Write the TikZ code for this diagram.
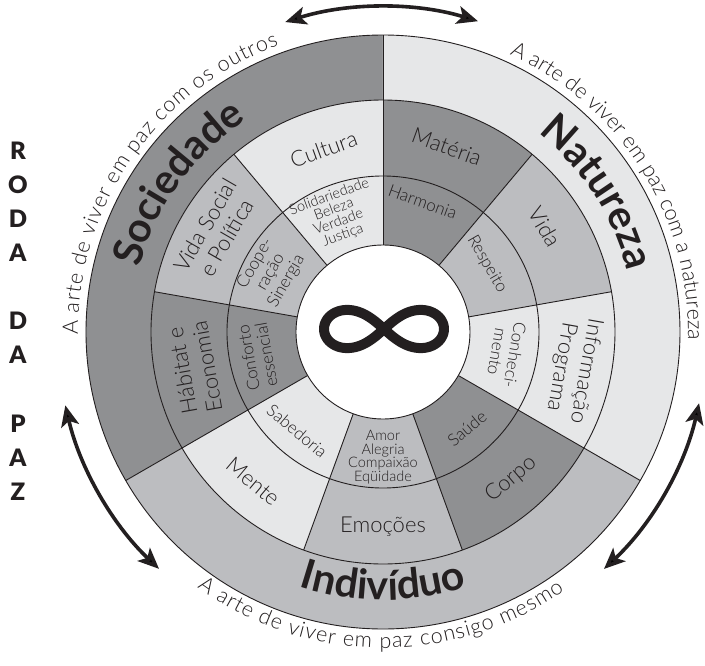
\documentclass[tikz,border=0pt]{standalone}
\usepackage{fontspec}
\setmainfont{Lato}
\IfFontExistsTF{Lato Light}{\newfontfamily\lightfont{Lato Light}}{\newfontfamily\lightfont{Lato}}
\IfFontExistsTF{Lato Black}{\newfontfamily\heavyfont{Lato Black}}{\newfontfamily\heavyfont{Lato}[UprightFont=*-Bold]}
\usetikzlibrary{decorations.text,arrows.meta}
\definecolor{gdark}{RGB}{143,144,146}
\definecolor{gmed}{RGB}{188,189,192}
\definecolor{glight}{RGB}{230,231,232}
\definecolor{ink}{RGB}{35,31,32}
\newcommand{\arcfont}{\lightfont\fontsize{21.5}{21.5}\selectfont}
\newcommand{\bigfont}{\fontsize{41}{41}\selectfont\bfseries}
\tikzset{
  ringline/.style={draw=ink, line width=0.9pt},
  midlabel/.style={text=ink, font=\lightfont\fontsize{22}{25}\selectfont, align=center, inner sep=0pt},
  innlabel/.style={text=ink, font=\lightfont\fontsize{17}{18}\selectfont, align=center, inner sep=0pt},
  smalllabel/.style={text=ink, font=\lightfont\fontsize{14.5}{13.5}\selectfont, align=center, inner sep=0pt},
  cyclearrow/.style={line width=3.6pt, draw=ink, {Stealth[length=21pt,width=18pt,inset=5pt]}-{Stealth[length=21pt,width=18pt,inset=5pt]}},
  rodaletter/.style={font=\heavyfont\fontsize{24}{24}\selectfont, text=ink, inner sep=0pt},
  arctext/.style={decorate, decoration={text along path, text color=ink, text={|\arcfont|#1}, text align={fit to path}}},
  bigtext/.style={decorate, decoration={text along path, text color=ink, text={|\bigfont|#1}, text align=center}}
}
\begin{document}
\begin{tikzpicture}[x=1pt,y=1pt]
\useasboundingbox (-383,-333) rectangle (322,332);
\fill[white] (-383,-333) rectangle (322,332);
% outer ring
\fill[gdark] (90:232pt) arc[start angle=90,end angle=210,radius=232pt] -- (210:297pt) arc[start angle=210,end angle=90,radius=297pt] -- cycle;
\fill[glight] (-30:232pt) arc[start angle=-30,end angle=90,radius=232pt] -- (90:297pt) arc[start angle=90,end angle=-30,radius=297pt] -- cycle;
\fill[gmed] (210:232pt) arc[start angle=210,end angle=330,radius=232pt] -- (330:297pt) arc[start angle=330,end angle=210,radius=297pt] -- cycle;
% inner and middle rings
\foreach \a/\c in {-150/glight,-110/gmed,-70/gdark,-30/glight,10/gmed,50/gdark,90/glight,130/gmed,170/gdark}{
  \fill[\c] (\a:87pt) arc[start angle=\a, delta angle=40, radius=87pt] -- ({\a+40}:232pt) arc[start angle={\a+40}, delta angle=-40, radius=232pt] -- cycle;
}
\draw[ringline] (0,0) circle[radius=297pt];
\draw[ringline] (0,0) circle[radius=232pt];
\draw[ringline] (0,0) circle[radius=156pt];
\foreach \a in {-150,-110,...,170} \draw[ringline] (\a:87pt) -- (\a:232pt);
\foreach \a in {90,210,330} \draw[ringline] (\a:232pt) -- (\a:297pt);
\filldraw[fill=white, ringline] (0,0) circle[radius=87pt];
% infinity
\draw[ink, line width=10pt, line join=round] plot[domain=0:357.6, samples=150, smooth cycle, variable=\t] ({1+60*cos(\t)/(1+sin(\t)^2)}, {3+54*sin(\t)*cos(\t)/(1+sin(\t)^2)});
% big ring titles
\path[bigtext=Sociedade] (168:252pt) arc[start angle=168, end angle=120, radius=252pt];
\path[bigtext=Natureza] (57:252pt) arc[start angle=57, end angle=9, radius=252pt];
\path[bigtext=Indivíduo] (239:268pt) arc[start angle=239, end angle=301, radius=268pt];
% arc texts
\path[arctext=A arte de viver em paz com os outros] (180.5:305pt) arc[start angle=180.5, end angle=110, radius=305pt];
\path[arctext=A arte de viver em paz com a natureza] (65.5:305pt) arc[start angle=65.5, end angle=-1.5, radius=305pt];
\path[arctext=A arte de viver em paz consigo mesmo] (234:316pt) arc[start angle=234, end angle=305, radius=316pt];
% middle ring labels
\node[midlabel, rotate=20] (cultura) at (108:192pt) {Cultura};
\node[midlabel, rotate=-20] (materia) at (71:196pt) {Matéria};
\node[midlabel, rotate=-60] (vida) at (33:193pt) {Vida};
\node[midlabel, rotate=-100] (info) at (-11:194pt) {Informação\\Programa};
\node[midlabel, rotate=40] (corpo) at (-49:195pt) {Corpo};
\node[midlabel] (emocoes) at (-90:195pt) {Emoções};
\node[midlabel, rotate=-40] (mente) at (229:198pt) {Mente};
\node[midlabel, rotate=100] (habitat) at (191:192pt) {Hábitat e\\Economia};
\node[midlabel, rotate=60] (vidasocial) at (149:195pt) {Vida Social\\e Política};
% inner ring labels
\node[smalllabel, rotate=20] (solid) at (112:125pt) {Solidariedade\\Beleza\\Verdade\\Justiça};
\node[innlabel, rotate=-20] (harmonia) at (73:136pt) {Harmonia};
\node[innlabel, rotate=-60] (respeito) at (33:124pt) {Respeito};
\node[innlabel, rotate=-100] (conhec) at (-10:125pt) {Conheci-\\mento};
\node[innlabel, rotate=40] (saude) at (-49:128pt) {Saúde};
\node[smalllabel] (amor) at (-90:125pt) {Amor\\Alegria\\Compaixão\\Eqüidade};
\node[innlabel, rotate=-40] (sabedoria) at (229:131pt) {Sabedoria};
\node[innlabel, rotate=100] (conforto) at (191:128pt) {Conforto\\essencial};
\node[innlabel, rotate=60] (coope) at (152:127pt) {Coope-\\ração\\Sinergia};
% arrows
\draw[cyclearrow] (107.5:325pt) arc[start angle=107.5, end angle=73, radius=325pt];
\draw[cyclearrow] (193:326pt) arc[start angle=193, end angle=226.6, radius=326pt];
\draw[cyclearrow] (-12.7:324pt) arc[start angle=-12.7, end angle=-47, radius=324pt];
% RODA DA PAZ
\node[rodaletter] (l1) at (-365,181) {R};
\node[rodaletter] (l2) at (-365,147) {O};
\node[rodaletter] (l3) at (-365,113) {D};
\node[rodaletter] (l4) at (-365,79) {A};
\node[rodaletter] (l5) at (-365,11) {D};
\node[rodaletter] (l6) at (-365,-23) {A};
\node[rodaletter] (l7) at (-365,-92) {P};
\node[rodaletter] (l8) at (-365,-126) {A};
\node[rodaletter] (l9) at (-365,-160) {Z};
\end{tikzpicture}
\end{document}
